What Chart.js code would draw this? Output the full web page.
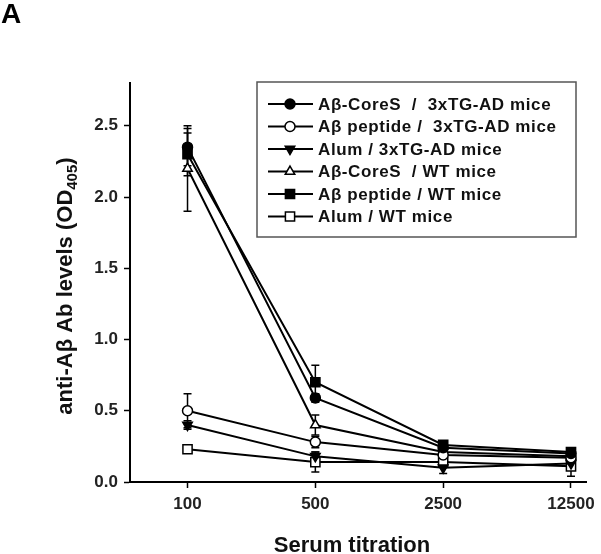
<!DOCTYPE html>
<html>
<head>
<meta charset="utf-8">
<script src="https://cdn.jsdelivr.net/npm/chart.js@4.4.1/dist/chart.umd.min.js"></script>
<style>
  html, body { margin: 0; padding: 0; background: #fff; }
  #wrap { width: 601px; height: 554px; }
</style>
</head>
<body>
<div id="wrap"><canvas id="chart" width="601" height="554"></canvas></div>
<script>
// serum dilutions on the x axis
const titrations = ['100', '500', '2500', '12500'];
const yTicks = [0, 0.5, 1.0, 1.5, 2.0, 2.5];

const seriesNames = [
  'A\u03b2-CoreS  /  3xTG-AD mice',
  'A\u03b2 peptide /  3xTG-AD mice',
  'Alum / 3xTG-AD mice',
  'A\u03b2-CoreS  / WT mice',
  'A\u03b2 peptide / WT mice',
  'Alum / WT mice'
];

// OD405 means
const coreS3xTG   = [2.35, 0.59, 0.24, 0.20];
const peptide3xTG = [0.50, 0.28, 0.19, 0.17];
const alum3xTG    = [0.40, 0.18, 0.10, 0.13];
const coreSWT     = [2.20, 0.40, 0.21, 0.18];
const peptideWT   = [2.30, 0.70, 0.26, 0.21];
const alumWT      = [0.23, 0.14, 0.14, 0.11];

// error bars (+/-)
const coreS3xTGErr   = [0.13, 0.03, 0.02, 0.02];
const peptide3xTGErr = [0.12, 0.04, 0.02, 0.02];
const alum3xTGErr    = [0.03, 0.03, 0.04, 0.02];
const coreSWTErr     = [0.30, 0.07, 0.02, 0.02];
const peptideWTErr   = [0.15, 0.12, 0.02, 0.02];
const alumWTErr      = [0.02, 0.07, 0.03, 0.07];

const FONT = '"Liberation Sans", Arial, sans-serif';

function series(label, values, errs, style, filled, radius, rotation) {
  return {
    label: label,
    data: values.map((v, i) => ({ x: i, y: v })),
    errs: errs,
    borderColor: '#000',
    borderWidth: 2,
    pointStyle: style,
    pointRotation: rotation || 0,
    pointRadius: radius,
    pointBackgroundColor: filled ? '#000' : '#fff',
    pointBorderColor: '#000',
    pointBorderWidth: 1.5,
    tension: 0
  };
}

const errorBars = {
  id: 'errorBars',
  beforeDatasetsDraw(chart) {
    const ctx = chart.ctx, ys = chart.scales.y, xs = chart.scales.x;
    ctx.save();
    ctx.strokeStyle = '#000';
    ctx.lineWidth = 1.5;
    chart.data.datasets.forEach(ds => {
      ds.data.forEach((p, i) => {
        const e = ds.errs[i];
        if (!e) return;
        const x = xs.getPixelForValue(p.x);
        const y1 = ys.getPixelForValue(p.y - e), y2 = ys.getPixelForValue(p.y + e);
        ctx.beginPath();
        ctx.moveTo(x, y1); ctx.lineTo(x, y2);
        ctx.moveTo(x - 4, y1); ctx.lineTo(x + 4, y1);
        ctx.moveTo(x - 4, y2); ctx.lineTo(x + 4, y2);
        ctx.stroke();
      });
    });
    ctx.restore();
  }
};

const decorations = {
  id: 'decorations',
  afterDraw(chart) {
    const ctx = chart.ctx;
    ctx.save();
    ctx.fillStyle = '#000';
    // panel letter
    ctx.font = 'bold 28px ' + FONT;
    ctx.textBaseline = 'alphabetic';
    ctx.textAlign = 'left';
    ctx.fillText('A', 1, 23);

    // x title
    ctx.fillStyle = '#111';
    ctx.font = 'bold 22px ' + FONT;
    ctx.textAlign = 'center';
    ctx.fillText('Serum titration', 352, 552);

    // y title with subscript
    ctx.translate(72, 286);
    ctx.rotate(-Math.PI / 2);
    const main = 'anti-A\u03b2 Ab levels (OD', sub = '405', end = ')';
    ctx.font = 'bold 22px ' + FONT;
    const w1 = ctx.measureText(main).width, w3 = ctx.measureText(end).width;
    ctx.font = 'bold 15px ' + FONT;
    const w2 = ctx.measureText(sub).width;
    let x = -(w1 + w2 + w3) / 2;
    ctx.textAlign = 'left';
    ctx.font = 'bold 22px ' + FONT;
    ctx.fillText(main, x, 0);
    ctx.font = 'bold 15px ' + FONT;
    ctx.fillText(sub, x + w1, 5);
    ctx.font = 'bold 22px ' + FONT;
    ctx.fillText(end, x + w1 + w2, 0);
    ctx.restore();

    // legend box
    ctx.save();
    const bx = 257, by = 82, bw = 319, bh = 155;
    ctx.strokeStyle = '#555';
    ctx.lineWidth = 1.5;
    ctx.strokeRect(bx, by, bw, bh);
    chart.data.datasets.forEach((ds, i) => {
      const y = 104 + i * 22.5;
      ctx.strokeStyle = '#000';
      ctx.lineWidth = 2;
      ctx.beginPath();
      ctx.moveTo(268, y); ctx.lineTo(313, y);
      ctx.stroke();
      ctx.fillStyle = ds.pointBackgroundColor;
      ctx.lineWidth = ds.pointBorderWidth;
      Chart.helpers.drawPoint(ctx, {
        pointStyle: ds.pointStyle,
        radius: ds.pointRadius,
        rotation: ds.pointRotation,
        borderWidth: ds.pointBorderWidth
      }, 290, y);
      ctx.fillStyle = '#111';
      ctx.font = 'bold 17px ' + FONT;
      ctx.letterSpacing = '0.6px';
      ctx.textAlign = 'left';
      ctx.textBaseline = 'middle';
      ctx.fillText(ds.label, 318, y + 1);
      ctx.letterSpacing = '0px';
    });
    ctx.restore();
  }
};

new Chart(document.getElementById('chart'), {
  type: 'line',
  data: {
    datasets: [
      series(seriesNames[0], coreS3xTG, coreS3xTGErr, 'circle', true, 5),
      series(seriesNames[1], peptide3xTG, peptide3xTGErr, 'circle', false, 5),
      series(seriesNames[2], alum3xTG, alum3xTGErr, 'triangle', true, 5.5, 180),
      series(seriesNames[3], coreSWT, coreSWTErr, 'triangle', false, 5.5),
      series(seriesNames[4], peptideWT, peptideWTErr, 'rect', true, 6.5),
      series(seriesNames[5], alumWT, alumWTErr, 'rect', false, 6.5)
    ]
  },
  options: {
    responsive: false,
    animation: false,
    layout: { padding: { left: 0, top: 83, right: 11, bottom: 0 } },
    plugins: { legend: { display: false }, tooltip: { enabled: false } },
    scales: {
      x: {
        type: 'linear',
        min: -0.45,
        max: 3.12,
        afterFit: s => { s.height = 72; },
        afterBuildTicks: s => { s.ticks = titrations.map((t, i) => ({ value: i })); },
        border: { color: '#000', width: 2 },
        grid: { drawOnChartArea: false, color: '#000', tickLength: 6, tickWidth: 1.5 },
        ticks: {
          color: '#222',
          padding: 6,
          maxRotation: 0,
          font: { family: FONT, size: 17, weight: 'bold' },
          callback: v => titrations[v]
        }
      },
      y: {
        min: 0,
        max: 2.8,
        afterFit: s => { s.width = 130; },
        afterBuildTicks: s => { s.ticks = yTicks.map(v => ({ value: v })); },
        border: { color: '#000', width: 2 },
        grid: { drawOnChartArea: false, color: '#000', tickLength: 6, tickWidth: 1.5 },
        ticks: {
          color: '#222',
          padding: 6,
          font: { family: FONT, size: 17, weight: 'bold' },
          callback: v => v.toFixed(1)
        }
      }
    }
  },
  plugins: [errorBars, decorations]
});
</script>
</body>
</html>
